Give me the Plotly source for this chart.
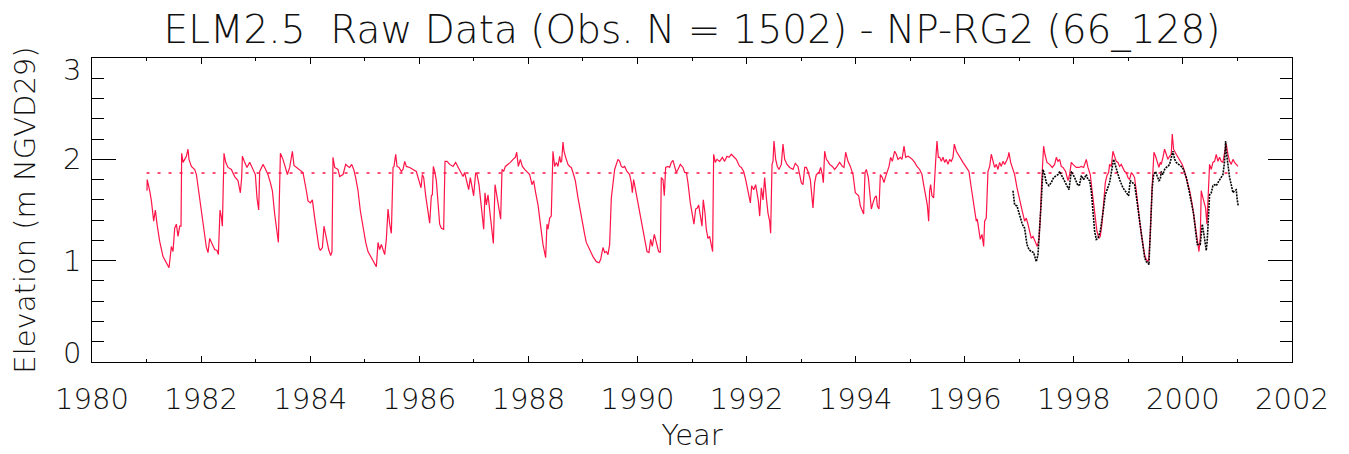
import plotly.graph_objects as go

# ELM2.5 simulated stage at NP-RG2 (decimal year, m NGVD29)
model_years = [
    1981.008, 1981.012, 1981.058, 1981.089, 1981.131, 1981.162, 1981.192, 1981.241, 1981.302, 1981.364,
    1981.412, 1981.455, 1981.485, 1981.516, 1981.547, 1981.577, 1981.608, 1981.632, 1981.644, 1981.669,
    1981.699, 1981.730, 1981.760, 1981.778, 1981.822, 1981.883, 1981.914, 1981.974, 1982.035, 1982.097,
    1982.127, 1982.158, 1982.207, 1982.249, 1982.292, 1982.317, 1982.347, 1982.372, 1982.390, 1982.420,
    1982.451, 1982.493, 1982.555, 1982.616, 1982.676, 1982.720, 1982.744, 1982.757, 1982.799, 1982.841,
    1982.891, 1982.952, 1982.995, 1983.025, 1983.056, 1983.074, 1983.105, 1983.135, 1983.166, 1983.226,
    1983.270, 1983.307, 1983.349, 1983.417, 1983.454, 1983.501, 1983.545, 1983.582, 1983.624, 1983.674,
    1983.703, 1983.747, 1983.808, 1983.868, 1983.930, 1983.960, 1984.004, 1984.040, 1984.083, 1984.125,
    1984.161, 1984.187, 1984.224, 1984.253, 1984.297, 1984.339, 1984.376, 1984.400, 1984.418, 1984.449,
    1984.510,
    1984.541, 1984.602, 1984.651, 1984.694, 1984.724, 1984.761, 1984.798, 1984.834, 1984.877, 1984.920,
    1984.969, 1985.018, 1985.060, 1985.122, 1985.183, 1985.213, 1985.244, 1985.274, 1985.305, 1985.335,
    1985.366, 1985.396, 1985.427, 1985.458, 1985.488, 1985.519, 1985.537, 1985.568, 1985.592, 1985.629,
    1985.671, 1985.702, 1985.733, 1985.763, 1985.824, 1985.885, 1985.946, 1985.989, 1986.032, 1986.056,
    1986.081, 1986.118, 1986.160, 1986.191, 1986.221, 1986.240, 1986.258, 1986.283, 1986.313, 1986.344,
    1986.374, 1986.405, 1986.447, 1986.472, 1986.509, 1986.557, 1986.619, 1986.667, 1986.710, 1986.753,
    1986.802, 1986.832, 1986.863, 1986.906, 1986.936, 1986.967, 1986.997, 1987.034, 1987.059, 1987.095,
    1987.138, 1987.181, 1987.205, 1987.230, 1987.260, 1987.291, 1987.321, 1987.358, 1987.389, 1987.425,
    1987.462, 1987.492, 1987.517, 1987.547, 1987.578, 1987.627, 1987.670, 1987.719, 1987.761, 1987.786,
    1987.816, 1987.853, 1987.890, 1987.932, 1987.975, 1988.024, 1988.067, 1988.097, 1988.134, 1988.177,
    1988.207, 1988.268, 1988.317, 1988.341, 1988.360, 1988.390, 1988.420, 1988.451, 1988.482, 1988.513,
    1988.543, 1988.574, 1988.592, 1988.610, 1988.635, 1988.653, 1988.684, 1988.726, 1988.757, 1988.787,
    1988.818, 1988.861, 1988.910, 1988.971, 1989.032, 1989.062, 1989.124, 1989.185, 1989.246, 1989.295,
    1989.325, 1989.368, 1989.399, 1989.429, 1989.460, 1989.490, 1989.521, 1989.551, 1989.582, 1989.612,
    1989.643, 1989.674, 1989.704, 1989.735, 1989.765, 1989.808, 1989.857, 1989.887, 1989.906, 1989.930,
    1989.979, 1990.022, 1990.071, 1990.132, 1990.175, 1990.211, 1990.242, 1990.272, 1990.309, 1990.346,
    1990.388, 1990.419, 1990.437, 1990.468, 1990.492, 1990.517, 1990.560, 1990.590, 1990.621, 1990.651,
    1990.682, 1990.712, 1990.743, 1990.786, 1990.835, 1990.865, 1990.896, 1990.926, 1990.969, 1991.006,
    1991.036, 1991.067, 1991.097, 1991.122, 1991.152, 1991.183, 1991.207, 1991.238, 1991.262, 1991.293,
    1991.323, 1991.354, 1991.378, 1991.397, 1991.427, 1991.458, 1991.507, 1991.556, 1991.598, 1991.641,
    1991.678, 1991.721, 1991.763, 1991.812, 1991.855,
    1991.874, 1991.905, 1991.947, 1991.984, 1992.027, 1992.070, 1992.094, 1992.131, 1992.167, 1992.192,
    1992.216, 1992.241, 1992.271, 1992.302, 1992.332, 1992.363, 1992.393, 1992.424, 1992.442, 1992.467,
    1992.485, 1992.503, 1992.534, 1992.564, 1992.595, 1992.638, 1992.668, 1992.699, 1992.742, 1992.791,
    1992.852, 1992.894, 1992.943, 1992.974, 1993.004, 1993.035, 1993.066, 1993.096, 1993.127, 1993.169,
    1993.200, 1993.218, 1993.249, 1993.279, 1993.328, 1993.359, 1993.389, 1993.408, 1993.432, 1993.463,
    1993.493, 1993.524, 1993.573, 1993.615, 1993.658, 1993.707, 1993.756, 1993.787, 1993.817, 1993.860,
    1993.903, 1993.952, 1993.994, 1994.025, 1994.056, 1994.086, 1994.123, 1994.147, 1994.172, 1994.196,
    1994.233, 1994.257, 1994.288, 1994.318, 1994.349, 1994.379, 1994.398, 1994.428, 1994.453, 1994.489,
    1994.520, 1994.544, 1994.575, 1994.612, 1994.642, 1994.673, 1994.715, 1994.746, 1994.777, 1994.819,
    1994.850, 1994.887, 1994.917, 1994.960, 1994.990, 1995.039, 1995.082, 1995.125, 1995.174, 1995.216,
    1995.247, 1995.284, 1995.314, 1995.339, 1995.357, 1995.375, 1995.400, 1995.430, 1995.449, 1995.467,
    1995.491, 1995.516,
    1995.540, 1995.571, 1995.601, 1995.632, 1995.662, 1995.693, 1995.723, 1995.754, 1995.784, 1995.809,
    1995.846, 1995.907, 1995.968, 1996.029, 1996.078, 1996.120, 1996.151, 1996.182, 1996.212, 1996.230,
    1996.261, 1996.285, 1996.316, 1996.347, 1996.365, 1996.395, 1996.426, 1996.457, 1996.487, 1996.518,
    1996.548, 1996.579, 1996.609, 1996.640, 1996.670, 1996.701, 1996.732, 1996.762, 1996.793, 1996.811,
    1996.842, 1996.872, 1996.915, 1996.958, 1997.007, 1997.055, 1997.098, 1997.129, 1997.159, 1997.190,
    1997.220, 1997.251, 1997.294, 1997.330, 1997.361, 1997.385, 1997.410, 1997.446, 1997.471, 1997.508,
    1997.556, 1997.605, 1997.648, 1997.679, 1997.709, 1997.740, 1997.770, 1997.801, 1997.850, 1997.893,
    1997.923, 1997.954, 1997.984, 1998.015, 1998.045, 1998.094, 1998.137, 1998.180, 1998.229, 1998.259,
    1998.302, 1998.333, 1998.363, 1998.394, 1998.424, 1998.461, 1998.485, 1998.516, 1998.546, 1998.577,
    1998.608, 1998.638,
    1998.656, 1998.687, 1998.717, 1998.748, 1998.778, 1998.809, 1998.839, 1998.870, 1998.900, 1998.931,
    1998.962, 1998.992, 1999.023, 1999.053, 1999.084, 1999.114, 1999.145, 1999.175, 1999.206, 1999.237,
    1999.267, 1999.298, 1999.328, 1999.359, 1999.377, 1999.401, 1999.432, 1999.450, 1999.469, 1999.499,
    1999.530, 1999.560, 1999.585, 1999.603, 1999.634, 1999.664, 1999.695, 1999.725, 1999.756, 1999.786,
    1999.805, 1999.829, 1999.878, 1999.939, 1999.988, 2000.031, 2000.074, 2000.123, 2000.172, 2000.214,
    2000.257, 2000.294, 2000.318, 2000.336, 2000.367, 2000.385, 2000.416, 2000.440, 2000.471, 2000.489,
    2000.520, 2000.550, 2000.581, 2000.611, 2000.642, 2000.672, 2000.703, 2000.734, 2000.764, 2000.795,
    2000.825, 2000.856, 2000.886, 2000.917, 2000.947, 2000.978, 2001.009,
]
model_stage = [
    1.69, 1.80, 1.69, 1.59, 1.39, 1.50, 1.36, 1.19, 1.04, 0.98,
    0.93, 1.14, 1.09, 1.32, 1.36, 1.24, 1.34, 1.34, 2.06, 1.97,
    2.00, 2.03, 2.10, 2.00, 1.93, 1.90, 1.85, 1.62, 1.39, 1.13,
    1.08, 1.22, 1.16, 1.11, 1.10, 1.06, 1.50, 1.43, 1.34, 2.06,
    1.97, 1.92, 1.90, 1.83, 1.79, 1.67, 1.82, 2.03, 1.97, 1.92,
    1.97, 1.90, 1.85, 1.62, 1.50, 1.88, 1.92, 1.95, 1.92, 1.85,
    1.77, 1.69, 1.46, 1.18, 2.06, 2.00, 1.92, 1.85, 1.92, 2.08,
    1.94, 1.92, 1.90, 1.87, 1.69, 1.59, 1.57, 1.60, 1.42, 1.26,
    1.13, 1.10, 1.13, 1.34, 1.22, 1.11, 1.05, 1.09, 2.02, 1.92,
    1.90,
    1.83, 1.85, 1.95, 1.93, 1.92, 1.95, 1.90, 1.82, 1.69, 1.49,
    1.32, 1.18, 1.09, 1.03, 0.98, 0.94, 1.18, 1.11, 1.16, 1.11,
    1.06, 1.21, 1.51, 1.36, 1.27, 1.92, 1.93, 2.05, 1.93, 1.92,
    1.88, 1.90, 1.98, 1.93, 1.92, 1.90, 1.88, 1.80, 1.72, 1.85,
    1.82, 1.64, 1.47, 1.37, 1.64, 1.65, 1.93, 1.88, 1.79, 1.55,
    1.36, 1.32, 1.31, 1.98, 1.98, 1.95, 1.93, 1.97, 1.93, 1.88,
    1.83, 1.87, 1.80, 1.70, 1.82, 1.74, 1.64, 1.87, 1.85, 1.75,
    1.52, 1.31, 1.67, 1.55, 1.65, 1.49, 1.34, 1.17, 1.75, 1.64,
    1.52, 1.41, 1.90, 1.88, 1.93, 1.95, 1.97, 2.00, 2.02, 2.07,
    1.93, 2.00, 1.93, 1.90, 1.88, 1.85, 1.75, 1.79, 1.67, 1.55,
    1.42, 1.16, 1.03, 1.36, 1.31, 1.42, 1.44, 2.08, 1.93, 1.97,
    1.93, 2.03, 1.97, 1.98, 2.17, 2.08, 2.02, 1.95, 1.93, 1.92,
    1.87, 1.79, 1.62, 1.42, 1.26, 1.18, 1.11, 1.04, 0.99, 0.98,
    1.01, 1.13, 1.08, 1.09, 1.06, 1.16, 1.62, 1.77, 1.90, 1.95,
    2.00, 1.98, 1.93, 1.92, 1.93, 1.88, 1.85, 1.77, 1.67, 1.80,
    1.65, 1.55, 1.39, 1.22, 1.09, 1.08, 1.21, 1.14, 1.26, 1.18,
    1.09, 1.08, 1.82, 1.80, 1.64, 1.92, 1.93, 1.92, 1.97, 1.99,
    1.92, 1.87, 1.90, 1.95, 1.92, 1.87, 1.87, 1.77, 1.57, 1.46,
    1.36, 1.51, 1.52, 1.55, 1.46, 1.34, 1.60, 1.47, 1.31, 1.22,
    1.24, 1.14, 1.09, 2.05, 1.97, 2.00, 1.98, 2.02, 1.98, 2.03,
    2.02, 2.05, 2.03, 2.00, 1.95,
    1.93, 1.92, 1.88, 1.80, 1.69, 1.57, 1.74, 1.70, 1.75, 1.67,
    1.59, 1.44, 1.72, 1.60, 1.82, 1.62, 1.47, 1.39, 1.27, 1.95,
    1.98, 2.18, 2.00, 1.93, 1.90, 1.95, 2.15, 2.00, 1.95, 1.92,
    1.90, 1.96, 1.93, 1.85, 1.77, 1.75, 1.92, 1.92, 1.88, 1.80,
    1.65, 1.52, 1.77, 1.85, 1.87, 1.92, 1.85, 1.77, 2.08, 2.00,
    1.98, 1.95, 1.93, 1.90, 1.93, 1.97, 1.93, 1.92, 2.07, 1.98,
    1.93, 1.85, 1.67, 1.65, 1.64, 1.54, 1.49, 1.46, 1.87, 1.90,
    1.82, 1.67, 1.51, 1.57, 1.62, 1.64, 1.54, 1.51, 1.85, 1.82,
    1.77, 1.82, 1.87, 1.93, 2.02, 1.98, 2.08, 2.05, 2.00, 2.02,
    2.00, 2.13, 2.02, 2.03, 2.02, 2.00, 1.97, 1.93, 1.90, 1.85,
    1.75, 1.65, 1.55, 1.39, 1.69, 1.75, 1.64, 1.62, 1.87, 1.98,
    2.18, 2.02,
    2.02, 1.98, 2.02, 1.97, 2.00, 1.95, 2.00, 1.98, 2.02, 2.15,
    2.08, 2.02, 1.97, 1.92, 1.88, 1.72, 1.59, 1.49, 1.39, 1.41,
    1.29, 1.21, 1.26, 1.14, 1.39, 1.42, 1.88, 1.93, 2.05, 1.98,
    1.92, 1.95, 1.90, 1.97, 1.93, 1.98, 1.95, 1.98, 2.02, 2.07,
    1.97, 1.92, 1.85, 1.72, 1.59, 1.49, 1.39, 1.42, 1.36, 1.29,
    1.22, 1.24, 1.18, 1.14, 1.21, 1.42, 1.77, 2.13, 2.05, 1.97,
    1.95, 1.92, 1.95, 2.02, 1.98, 2.00, 1.93, 1.92, 1.88, 1.79,
    1.85, 1.97, 1.95, 1.93, 1.92, 1.92, 1.93, 1.92, 2.00, 1.92,
    1.85, 1.70, 1.55, 1.42, 1.29, 1.22, 1.24, 1.36, 1.55, 1.77,
    1.84, 1.87,
    1.95, 1.93, 2.08, 2.03, 1.98, 1.97, 1.93, 1.95, 1.92, 1.88,
    1.87, 1.82, 1.80, 1.87, 1.85, 1.82, 1.69, 1.52, 1.39, 1.26,
    1.14, 1.06, 1.01, 0.99, 1.03, 1.26, 1.69, 1.95, 2.07, 2.03,
    1.98, 1.92, 1.97, 1.95, 2.02, 2.10, 2.05, 2.00, 2.03, 2.05,
    2.25, 2.10, 2.05, 2.00, 1.95, 1.88, 1.80, 1.69, 1.55, 1.39,
    1.22, 1.09, 1.22, 1.69, 1.62, 1.57, 1.52, 1.36, 1.69, 1.95,
    1.90, 1.97, 1.98, 2.05, 1.98, 2.02, 1.98, 1.97, 2.07, 2.15,
    2.05, 1.98, 1.95, 2.00, 1.97, 1.95, 1.93,
]

# Observed stage at NP-RG2
obs_years = [
    1996.884, 1996.915, 1996.958, 1997.007, 1997.055, 1997.098, 1997.141, 1997.178, 1997.220, 1997.263,
    1997.294, 1997.312, 1997.343, 1997.373, 1997.404, 1997.434, 1997.465, 1997.495, 1997.544, 1997.587,
    1997.630, 1997.679, 1997.715, 1997.740, 1997.770, 1997.813, 1997.850, 1997.887, 1997.911, 1997.954,
    1998.015, 1998.076, 1998.106, 1998.137, 1998.180, 1998.229, 1998.259, 1998.290, 1998.320, 1998.351,
    1998.382, 1998.412, 1998.443, 1998.485, 1998.516, 1998.546, 1998.577, 1998.614, 1998.644, 1998.656,
    1998.729, 1998.778, 1998.839, 1998.900, 1998.962, 1999.004, 1999.035, 1999.084, 1999.114, 1999.145,
    1999.175, 1999.206, 1999.237, 1999.267, 1999.298, 1999.328, 1999.359, 1999.377, 1999.401, 1999.420,
    1999.438, 1999.463, 1999.499, 1999.524, 1999.560, 1999.585, 1999.603, 1999.634, 1999.664, 1999.695,
    1999.725, 1999.756, 1999.786, 1999.817, 1999.848, 1999.878, 1999.921, 1999.970, 2000.012, 2000.061,
    2000.110, 2000.153, 2000.196, 2000.233, 2000.263, 2000.318, 2000.355, 2000.385, 2000.410, 2000.428,
    2000.446, 2000.471, 2000.489, 2000.520, 2000.550, 2000.581, 2000.611, 2000.642, 2000.672, 2000.703,
    2000.734, 2000.764, 2000.783, 2000.795, 2000.825, 2000.856, 2000.886, 2000.917, 2000.947, 2000.978,
    2000.996, 2001.015,
]
obs_stage = [
    1.69, 1.55, 1.54, 1.46, 1.36, 1.32, 1.16, 1.11, 1.09, 1.08,
    1.03, 0.99, 1.06, 1.30, 1.59, 1.90, 1.85, 1.77, 1.74, 1.77,
    1.82, 1.84, 1.85, 1.88, 1.85, 1.80, 1.77, 1.72, 1.70, 1.88,
    1.82, 1.74, 1.75, 1.84, 1.80, 1.85, 1.80, 1.79, 1.69, 1.49,
    1.29, 1.21, 1.22, 1.29, 1.39, 1.52, 1.65, 1.70, 1.74, 1.77,
    2.00, 1.90, 1.80, 1.72, 1.67, 1.64, 1.79, 1.77, 1.75, 1.64,
    1.51, 1.37, 1.24, 1.13, 1.03, 0.99, 0.98, 0.96, 1.26, 1.45,
    1.72, 1.85, 1.88, 1.84, 1.79, 1.80, 1.88, 1.85, 1.90, 1.92,
    1.93, 1.95, 2.03, 2.08, 2.00, 1.97, 1.95, 1.93, 1.90, 1.82,
    1.70, 1.59, 1.46, 1.29, 1.16, 1.16, 1.36, 1.26, 1.13, 1.10,
    1.20, 1.55, 1.65, 1.67, 1.74, 1.75, 1.74, 1.77, 1.80, 1.82,
    1.85, 1.98, 2.18, 2.08, 1.92, 1.82, 1.75, 1.67, 1.69, 1.70,
    1.60, 1.54,
]

# Long-term mean stage reference
ref_years = [1981.0, 2001.0]
ref_level = [1.865, 1.865]

# Axis ticks
x_ticks = [1980, 1982, 1984, 1986, 1988, 1990, 1992, 1994, 1996, 1998, 2000, 2002]
y_ticks = [0, 1, 2, 3]
y_tick_text = ["0", "1", "2", "3"]

RED = "#ff1448"
FONT = "DejaVu Sans"
INK = "#111"

fig = go.Figure()
fig.add_trace(go.Scatter(x=ref_years, y=ref_level, mode="lines",
                         line=dict(color=RED, width=1.6, dash="3px,8px"),
                         hoverinfo="skip"))
fig.add_trace(go.Scatter(x=model_years, y=model_stage, mode="lines",
                         line=dict(color=RED, width=1.2)))
fig.add_trace(go.Scatter(x=obs_years, y=obs_stage, mode="lines",
                         line=dict(color="black", width=1.6, dash="2px,1px")))

# y tick labels: end labels sit just inside the axis range
label_shift = {0: 9, 1: 0, 2: 0, 3: -12}
for v, t in zip(y_ticks, y_tick_text):
    fig.add_annotation(x=0, xref="paper", y=v, yref="y", text=t, showarrow=False,
                       xanchor="right", yanchor="middle", xshift=-9,
                       yshift=label_shift[v],
                       font=dict(family=FONT, size=29, color=INK, weight=200))

fig.update_layout(
    width=1349, height=454,
    margin=dict(l=92, r=57, t=58, b=92, autoexpand=False),
    paper_bgcolor="white", plot_bgcolor="white",
    showlegend=False,
    title=dict(text="ELM2.5  Raw Data (Obs. N = 1502) - NP-RG2 (66_128)",
               x=0.513, xanchor="center", y=1 - 29 / 454, yanchor="middle",
               yref="container",
               font=dict(family=FONT, size=39, color=INK, weight=200)),
    xaxis=dict(range=[1980, 2002], tickvals=x_ticks, ticks="inside", ticklen=6,
               tickcolor="black", tickwidth=1, showline=True, linecolor="black",
               linewidth=1, mirror="ticks", showgrid=False, zeroline=False,
               automargin=False,
               minor=dict(dtick=1, tick0=1980, ticks="inside", ticklen=3,
                          tickcolor="black", showgrid=False),
               tickfont=dict(family=FONT, size=29, color=INK, weight=200),
               ticklabelstandoff=11,
               title=dict(text="Year", standoff=9,
                          font=dict(family=FONT, size=29, color=INK, weight=200))),
    yaxis=dict(range=[0, 3], tickvals=y_ticks, ticks="inside", ticklen=24,
               tickcolor="black", tickwidth=1, showline=True, linecolor="black",
               linewidth=1, mirror="ticks", showgrid=False, zeroline=False,
               showticklabels=False, automargin=False,
               minor=dict(dtick=0.2, tick0=0, ticks="inside", ticklen=12,
                          tickcolor="black", showgrid=False),
               title=dict(text="Elevation (m NGVD29)", standoff=46,
                          font=dict(family=FONT, size=29, color=INK, weight=200))),
)

fig.write_html("out.html")
